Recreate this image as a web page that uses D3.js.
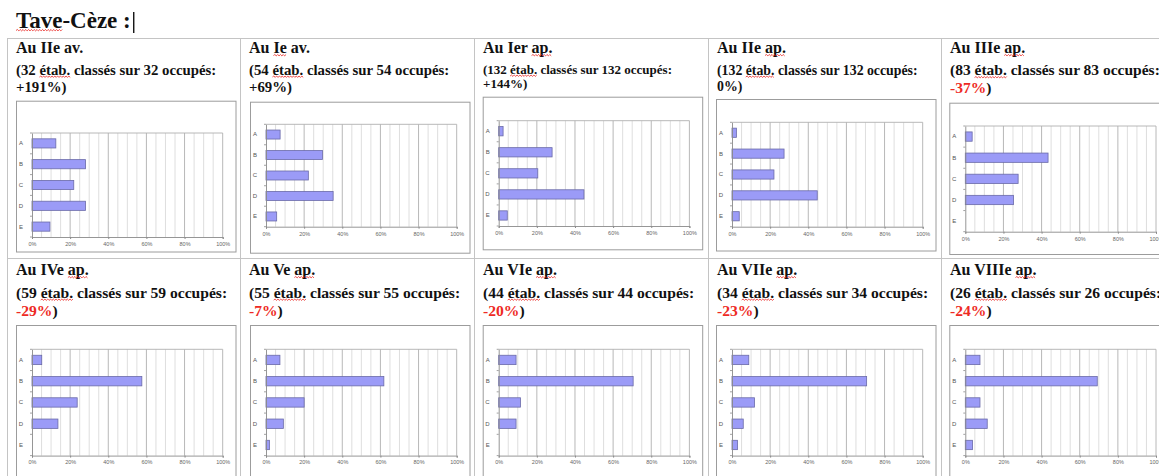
<!DOCTYPE html>
<html><head><meta charset="utf-8">
<script src="https://cdn.jsdelivr.net/npm/d3@7"></script>
<style>html,body{margin:0;padding:0;background:#fff;overflow:hidden}</style>
</head><body>
<svg id="c" width="1159" height="476"></svg>
<script>
// ---------- data ----------
const pageTitle = "Tave-Cèze :";
const periods = ["Au IIe av.", "Au Ie av.", "Au Ier ap.", "Au IIe ap.", "Au IIIe ap.",
                 "Au IVe ap.", "Au Ve ap.", "Au VIe ap.", "Au VIIe ap.", "Au VIIIe ap."];
const classified = [32, 54, 132, 132, 83, 59, 55, 44, 34, 26];
const occupied   = [32, 54, 132, 132, 83, 59, 55, 44, 34, 26];
const changes = ["+191%", "+69%", "+144%", "0%", "-37%", "-29%", "-7%", "-20%", "-23%", "-24%"];
const categories = ["A", "B", "C", "D", "E"];
const shareA = [12.5, 7.4, 2.3, 2.3, 3.6, 5.1, 7.3, 9.1, 8.8, 7.7];
const shareB = [28.1, 29.6, 28.0, 27.3, 43.4, 57.6, 61.8, 70.5, 70.6, 69.2];
const shareC = [21.9, 22.2, 20.5, 22.0, 27.7, 23.7, 20.0, 11.4, 11.8, 7.7];
const shareD = [28.1, 35.2, 44.7, 44.7, 25.3, 13.6, 9.1, 9.1, 5.9, 11.5];
const shareE = [9.4, 5.6, 4.5, 3.8, 0, 0, 1.8, 0, 2.9, 3.8];
const xTickValues = [0, 20, 40, 60, 80, 100];
const xTickLabels = ["0%", "20%", "40%", "60%", "80%", "100%"];

// ---------- layout ----------
const colX = [7, 240, 474, 708, 941];
const boxLeftOff = [9, 10, 8.7, 8, 8.3];
const rowTop = [38, 258];
const boxTopR1 = [100.7, 101.7, 96.7, 99, 102.7];
const plotTopR1 = [133, 124.3, 120.7, 122.3, 126];
const plotHR1 = [104, 102.4, 105.3, 104.4, 105.7];
const boxBotR1 = [251.5, 252.7, 249.3, 250.5, 254];
const smallFont = [14.8, 14.8, 13, 13.8, 15.5, 15.6, 15.6, 15.6, 15.6, 15.6];
const line2Base = [[74.5, 74.5, 73.5, 74.5, 75], 297.5];
const line3Base = [[91.5, 91.5, 87.5, 91, 93], 315.5];

const serif = "'Liberation Serif','Times New Roman',serif";
const sans = "'Liberation Sans',Arial,sans-serif";

const svg = d3.select("#c");

function squiggle(textSel, start, n, baseline) {
  const node = textSel.node();
  const x0 = +textSel.attr("x");
  const sx = x0 + (start > 0 ? node.getSubStringLength(0, start) : 0);
  const w = node.getSubStringLength(start, n);
  const y = baseline + 2.5;
  let d = `M${sx},${y}`;
  let up = true;
  for (let x = sx + 1.4; x <= sx + w + 0.01; x += 1.4) {
    d += `L${x},${y + (up ? -1 : 0.4)}`;
    up = !up;
  }
  svg.append("path").attr("d", d).attr("fill", "none")
     .attr("stroke", "#e8201c").attr("stroke-width", 0.8);
}

// title
const t = svg.append("text").attr("x", 16).attr("y", 28)
  .attr("font-family", serif).attr("font-weight", "bold").attr("font-size", 23)
  .attr("fill", "#111").text(pageTitle);
squiggle(t, 0, 4, 28);
const tw = t.node().getComputedTextLength();
svg.append("line").attr("x1", 16 + tw + 3).attr("x2", 16 + tw + 3)
  .attr("y1", 12).attr("y2", 33).attr("stroke", "#000").attr("stroke-width", 1.3);

// table grid
const grid = svg.append("g").attr("stroke", "#c4c4c4").attr("stroke-width", 1);
rowTop.forEach(y => grid.append("line").attr("x1", colX[0]).attr("x2", 1159)
  .attr("y1", y + 0.5).attr("y2", y + 0.5));
colX.forEach(x => grid.append("line").attr("x1", x + 0.5).attr("x2", x + 0.5)
  .attr("y1", rowTop[0]).attr("y2", 476));

const series = [shareA, shareB, shareC, shareD, shareE];

periods.forEach((p, i) => {
  const r = Math.floor(i / 5), c = i % 5;
  const tx = colX[c] + 9;
  const g = svg.append("g");
  // texts
  const titleBase = r === 0 ? 53 : 275;
  const tt = g.append("text").attr("x", tx).attr("y", titleBase)
    .attr("font-family", serif).attr("font-weight", "bold").attr("font-size", 16)
    .attr("fill", "#111").text(p);
  if (p.endsWith("ap.")) squiggle(tt, p.length - 3, 3, titleBase);
  if (p === "Au Ie av.") squiggle(tt, 3, 2, titleBase);

  const fs = smallFont[i];
  const b2 = r === 0 ? line2Base[0][c] : line2Base[1];
  const b3 = r === 0 ? line3Base[0][c] : line3Base[1];
  const l2str = `(${classified[i]} étab. classés sur ${occupied[i]} occupés:`;
  const l2 = g.append("text").attr("x", tx).attr("y", b2)
    .attr("font-family", serif).attr("font-weight", "bold").attr("font-size", fs)
    .attr("fill", "#111").text(l2str);
  const ePos = l2str.indexOf("étab.");
  squiggle(l2, ePos, 5, b2);
  const l3 = g.append("text").attr("x", tx).attr("y", b3)
    .attr("font-family", serif).attr("font-weight", "bold").attr("font-size", fs)
    .attr("fill", "#111");
  l3.append("tspan").attr("fill", changes[i].startsWith("-") ? "#ee2a24" : "#111").text(changes[i]);
  l3.append("tspan").text(")");

  // chart box
  const bx = colX[c] + boxLeftOff[c];
  const bw = 219.5;
  const bt = r === 0 ? boxTopR1[c] : 325;
  const bb = r === 0 ? boxBotR1[c] : 500;
  g.append("rect").attr("x", bx + 0.5).attr("y", bt + 0.5).attr("width", bw).attr("height", bb - bt)
    .attr("fill", "#fff").attr("stroke", "#9c9c9c").attr("stroke-width", 1);

  const pl = bx + 16, pw = 190.7;
  const pt = r === 0 ? plotTopR1[c] : 349.3;
  const ph = r === 0 ? plotHR1[c] : 106.3;
  const x = d3.scaleLinear().domain([0, 100]).range([pl, pl + pw]);
  const y = d3.scaleBand().domain(categories).range([pt, pt + ph])
    .paddingInner(0.56).paddingOuter(0.28);

  // minor grid
  g.append("g").selectAll("line").data(d3.range(5, 100, 5).filter(v => v % 20 !== 0))
    .join("line").attr("x1", d => x(d)).attr("x2", d => x(d))
    .attr("y1", pt).attr("y2", pt + ph).attr("stroke", "#d6d6d6").attr("stroke-width", 0.8);
  // major grid
  g.append("g").selectAll("line").data([20, 40, 60, 80, 100])
    .join("line").attr("x1", d => x(d)).attr("x2", d => x(d))
    .attr("y1", pt).attr("y2", pt + ph).attr("stroke", "#b0b0b0").attr("stroke-width", 0.9);
  // plot top border
  g.append("line").attr("x1", x(0)).attr("x2", x(100)).attr("y1", pt).attr("y2", pt)
    .attr("stroke", "#b0b0b0").attr("stroke-width", 0.9);

  // bars
  const vals = categories.map((k, j) => ({ k, v: series[j][i] }));
  g.append("g").selectAll("rect").data(vals.filter(d => d.v > 0)).join("rect")
    .attr("x", x(0)).attr("y", d => y(d.k))
    .attr("width", d => x(d.v) - x(0)).attr("height", y.bandwidth())
    .attr("fill", "#9b9bf7").attr("stroke", "#6a6aa8").attr("stroke-width", 0.8);

  // x axis
  const xa = g.append("g").attr("transform", `translate(0,${pt + ph})`)
    .call(d3.axisBottom(x).tickValues(xTickValues).tickFormat((d, k) => xTickLabels[k])
      .tickSize(2).tickPadding(3));
  xa.select(".domain").attr("stroke", "#8a8a8a").attr("stroke-width", 0.9);
  xa.selectAll(".tick line").attr("stroke", "#8a8a8a");
  xa.selectAll("text").attr("font-family", sans).attr("font-size", 5.5).attr("fill", "#666");

  // y axis
  const ya = g.append("g").attr("transform", `translate(${pl},0)`)
    .call(d3.axisLeft(y).tickSize(0).tickPadding(9));
  ya.select(".domain").attr("stroke", "#8a8a8a").attr("stroke-width", 0.9);
  ya.selectAll("text").attr("font-family", sans).attr("font-size", 6).attr("fill", "#555");
  g.append("g").selectAll("line").data(d3.range(0, categories.length + 1))
    .join("line").attr("x1", pl - 2).attr("x2", pl)
    .attr("y1", k => pt + k * y.step()).attr("y2", k => pt + k * y.step())
    .attr("stroke", "#8a8a8a").attr("stroke-width", 0.8);
});
</script>
</body></html>
